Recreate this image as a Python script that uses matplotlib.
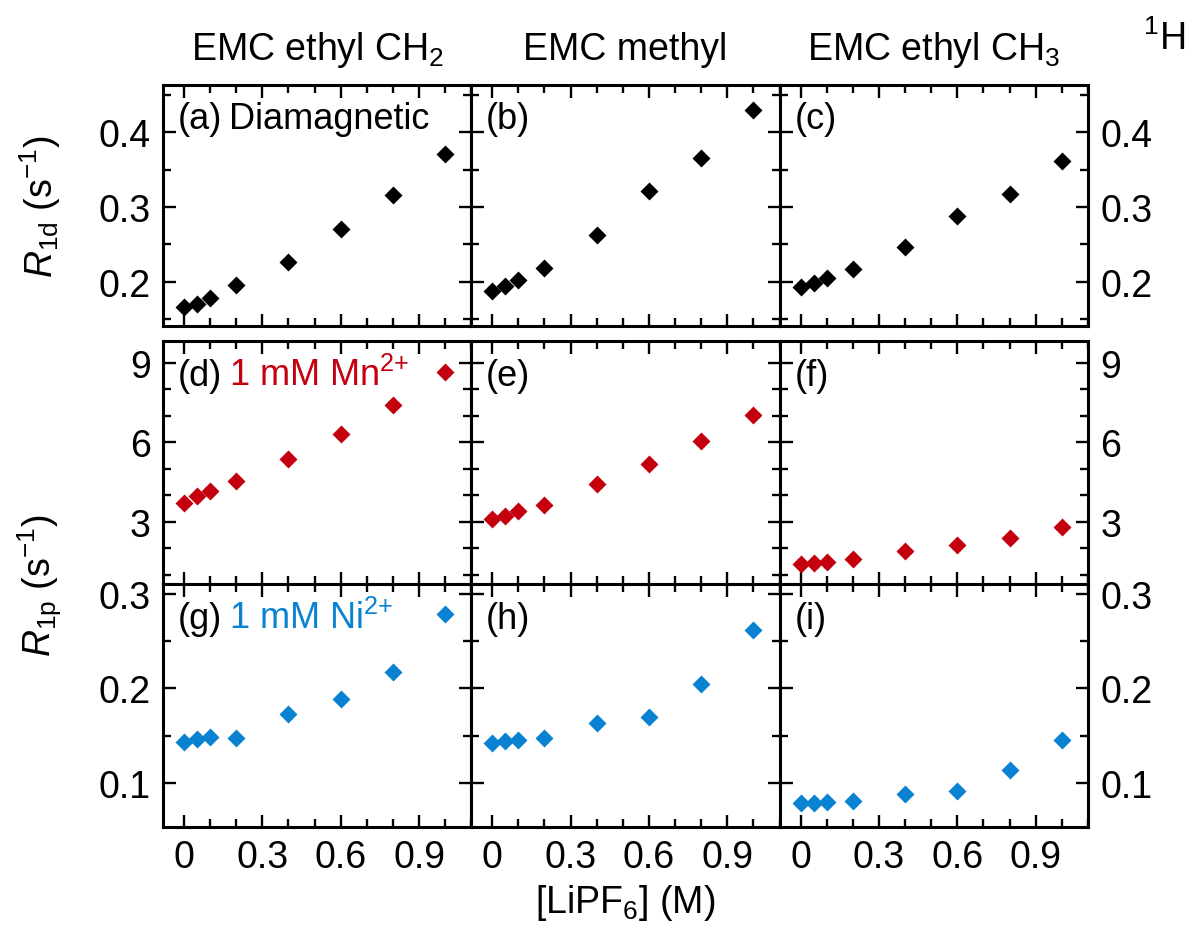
import matplotlib
matplotlib.use("Agg")
import matplotlib.pyplot as plt
from matplotlib.ticker import MultipleLocator, FixedLocator

plt.rcParams['font.family'] = ['Liberation Sans', 'DejaVu Sans']
plt.rcParams['mathtext.fontset'] = 'custom'
plt.rcParams['mathtext.rm'] = 'Liberation Sans'
plt.rcParams['mathtext.it'] = 'Liberation Sans:italic'
plt.rcParams['mathtext.bf'] = 'Liberation Sans:bold'
plt.rcParams['axes.linewidth'] = 2.2

# LiPF6 concentration (M)
conc = [0, 0.05, 0.1, 0.2, 0.4, 0.6, 0.8, 1.0]

columns = ['EMC ethyl CH$_2$', 'EMC methyl', 'EMC ethyl CH$_3$']

# diamagnetic R1d (s^-1)
r1d_ch2 = [0.167, 0.171, 0.179, 0.196, 0.227, 0.271, 0.316, 0.371]
r1d_methyl = [0.188, 0.194, 0.203, 0.219, 0.262, 0.322, 0.365, 0.430]
r1d_ch3 = [0.193, 0.198, 0.205, 0.217, 0.246, 0.288, 0.318, 0.362]

# paramagnetic R1p with 1 mM Mn2+ (s^-1)
mn_ch2 = [3.73, 3.98, 4.18, 4.53, 5.39, 6.33, 7.42, 8.65]
mn_methyl = [3.10, 3.22, 3.40, 3.65, 4.45, 5.20, 6.05, 7.05]
mn_ch3 = [1.40, 1.45, 1.50, 1.60, 1.90, 2.15, 2.40, 2.80]

# paramagnetic R1p with 1 mM Ni2+ (s^-1)
ni_ch2 = [0.1436, 0.1464, 0.1485, 0.1474, 0.1728, 0.1894, 0.2176, 0.2787]
ni_methyl = [0.142, 0.144, 0.146, 0.148, 0.163, 0.170, 0.205, 0.262]
ni_ch3 = [0.0790, 0.0790, 0.0801, 0.0808, 0.0882, 0.0914, 0.1136, 0.1460]

RED = '#C4000F'
BLUE = '#0A82D2'

rows = [
    dict(data=[r1d_ch2, r1d_methyl, r1d_ch3], color='black', ylim=(0.141, 0.463),
         major=[0.2, 0.3, 0.4], minor=0.05, fmt='{:.1f}',
         labels=['(a)', '(b)', '(c)'], note='Diamagnetic', note_color='black'),
    dict(data=[mn_ch2, mn_methyl, mn_ch3], color=RED, ylim=(0.66, 9.83),
         major=[3, 6, 9], minor=1, fmt='{:.0f}',
         labels=['(d)', '(e)', '(f)'], note='1 mM Mn$^{2{+}}$', note_color=RED),
    dict(data=[ni_ch2, ni_methyl, ni_ch3], color=BLUE, ylim=(0.0534, 0.3106),
         major=[0.1, 0.2, 0.3], minor=0.05, fmt='{:.1f}',
         labels=['(g)', '(h)', '(i)'], note='1 mM Ni$^{2{+}}$', note_color=BLUE),
]

W, H = 1189, 929
fig = plt.figure(figsize=(W / 100, H / 100), dpi=100)

left, col_w = 163, 308.3
row_px = [(86, 327), (342, 585), (585, 828)]

for r, row in enumerate(rows):
    top, bot = row_px[r]
    for c in range(3):
        ax = fig.add_axes([(left + c * col_w) / W, (H - bot) / H,
                           col_w / W, (bot - top) / H])
        ax.plot(conc, row['data'][c], 'D', color=row['color'], ms=9.5, mec='none')
        ax.set_xlim(-0.08, 1.1)
        ax.set_ylim(*row['ylim'])
        ax.xaxis.set_major_locator(FixedLocator([0, 0.3, 0.6, 0.9]))
        ax.xaxis.set_minor_locator(MultipleLocator(0.1))
        ax.yaxis.set_major_locator(FixedLocator(row['major']))
        ax.yaxis.set_minor_locator(MultipleLocator(row['minor']))
        ax.tick_params(which='both', direction='in', top=True, right=True,
                       width=1.7, labelsize=27, pad=9)
        ax.tick_params(which='major', length=9)
        ax.tick_params(which='minor', length=5.5)
        ax.set_yticklabels([row['fmt'].format(v) for v in row['major']])
        ax.set_xticklabels(['0', '0.3', '0.6', '0.9'])
        if r < 2:
            ax.tick_params(labelbottom=False)
        if c == 1:
            ax.tick_params(labelleft=False)
        elif c == 2:
            ax.tick_params(labelleft=False, labelright=True)

        t = ax.text(0.048, 0.82, row['labels'][c], transform=ax.transAxes,
                    fontsize=26, va='baseline', ha='left')
        if c == 0:
            # put the sample note right after the panel letter
            fig.canvas.draw()
            bb = t.get_window_extent(renderer=fig.canvas.get_renderer())
            x1 = ax.transAxes.inverted().transform((bb.x1, bb.y0))[0]
            ax.text(x1 + 0.022, 0.82, row['note'], transform=ax.transAxes,
                    fontsize=26, va='baseline', ha='left', color=row['note_color'])

# column headings
for c, name in enumerate(columns):
    fig.text((left + (c + 0.5) * col_w) / W, (H - 60) / H, name,
             fontsize=27, ha='center', va='baseline')
fig.text(1185 / W, (H - 50) / H, '$^1$H', fontsize=27, ha='right', va='baseline')

fig.text(40 / W, (H - 207) / H, r'$\mathit{R}_{\mathrm{1d}}$ (s$^{-1}$)',
         fontsize=27, rotation=90, ha='center', va='center')
fig.text(40 / W, (H - 586) / H, r'$\mathit{R}_{\mathrm{1p}}$ (s$^{-1}$)',
         fontsize=27, rotation=90, ha='center', va='center')
fig.text((left + 1.5 * col_w) / W, (H - 903) / H, r'[LiPF$_6$] (M)',
         fontsize=27, ha='center', va='center')

fig.savefig('out.png', dpi=100)
